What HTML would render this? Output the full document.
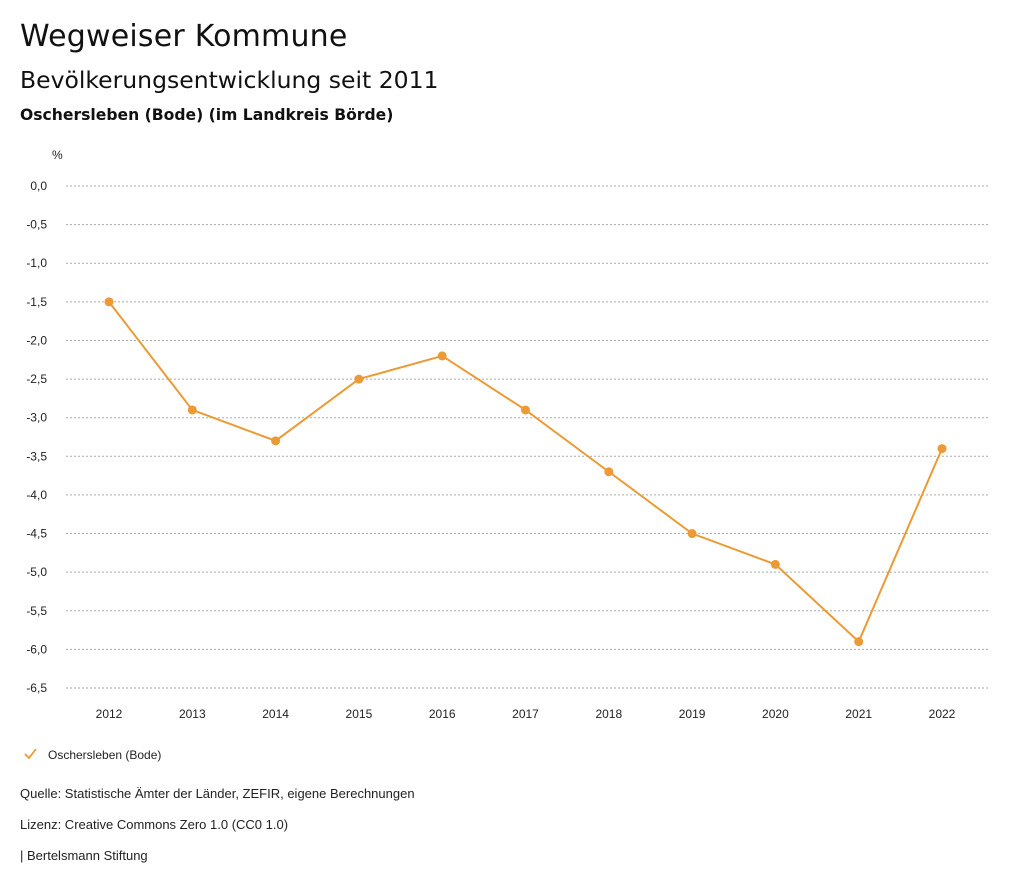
<!DOCTYPE html>
<html><head><meta charset="utf-8"><style>
body{margin:0;background:#fff;width:1024px;height:888px;overflow:hidden;font-family:"Liberation Sans",sans-serif;color:#111}
.t1{position:absolute;left:20px;top:19px;font:30px "DejaVu Sans",sans-serif;letter-spacing:0.2px}
.t2{position:absolute;left:20px;top:66px;font:23.5px "DejaVu Sans",sans-serif}
.t3{position:absolute;left:20px;top:106px;font:bold 15.6px "DejaVu Sans",sans-serif}
.f{position:absolute;left:20px;font-size:13px;color:#222}
</style></head><body>
<div class="t1">Wegweiser Kommune</div>
<div class="t2">Bevölkerungsentwicklung seit 2011</div>
<div class="t3">Oschersleben (Bode) (im Landkreis Börde)</div>
<svg id="c" width="1024" height="888" style="position:absolute;left:0;top:0"></svg>
<div class="f" style="top:786px">Quelle: Statistische Ämter der Länder, ZEFIR, eigene Berechnungen</div>
<div class="f" style="top:817px">Lizenz: Creative Commons Zero 1.0 (CC0 1.0)</div>
<div class="f" style="top:848px">| Bertelsmann Stiftung</div>
<script>
const years=["2012","2013","2014","2015","2016","2017","2018","2019","2020","2021","2022"];
const values=[-1.5,-2.9,-3.3,-2.5,-2.2,-2.9,-3.7,-4.5,-4.9,-5.9,-3.4];
const yTicks=[0,-0.5,-1,-1.5,-2,-2.5,-3,-3.5,-4,-4.5,-5,-5.5,-6,-6.5];
const NS="http://www.w3.org/2000/svg",svg=document.getElementById('c');
const y=v=>186+(0-v)/6.5*502;
const x=i=>109+i*(942-109)/10;
function el(t,a){const e=document.createElementNS(NS,t);for(const k in a)e.setAttribute(k,a[k]);svg.appendChild(e);return e;}
let u=el('text',{x:52,y:159,'font-size':12,fill:'#222','font-family':'Liberation Sans'});u.textContent='%';


yTicks.forEach(v=>{
 const g=el('line',{x1:66,x2:990,y1:y(v),y2:y(v),stroke:'#aaa','stroke-dasharray':'2,2','stroke-width':1});
 
 
 const t=el('text',{x:47,y:y(v)+4,'text-anchor':'end','font-size':12,fill:'#222','font-family':'Liberation Sans'});
 t.textContent=v.toFixed(1).replace('.',',').replace('-0,0','0,0');
 
 
});
years.forEach((yr,i)=>{
 const t=el('text',{x:x(i),y:718,'text-anchor':'middle','font-size':12,fill:'#222','font-family':'Liberation Sans'});
 t.textContent=yr;
 
 
});
const p=el('polyline',{points:values.map((v,i)=>x(i)+','+y(v)).join(' '),fill:'none',stroke:'#ec9a35','stroke-width':2});


values.forEach((v,i)=>{
 const c=el('circle',{cx:x(i),cy:y(v),r:4.5,fill:'#ec9a35'});
 
 
});
const lg=el('path',{d:'M25 754 L29 758 L36 749',fill:'none',stroke:'#ec9a35','stroke-width':1.8});


const lt=el('text',{x:48,y:759,'font-size':12,fill:'#222','font-family':'Liberation Sans'});
lt.textContent='Oschersleben (Bode)';


</script>
</body></html>
